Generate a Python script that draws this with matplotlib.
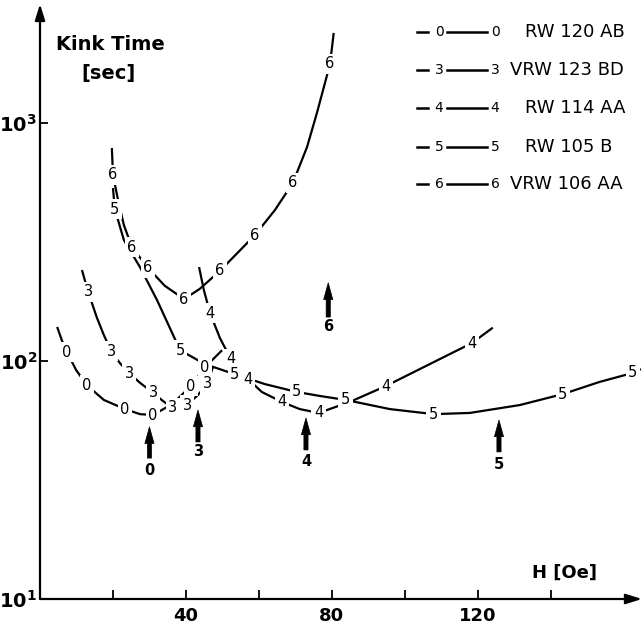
import numpy as np
import matplotlib
matplotlib.use('Agg')
import matplotlib.pyplot as plt
from matplotlib.lines import Line2D

# ---------------- data ----------------
series_ids = ['0', '3', '4', '5', '6']
series_names = ['RW 120 AB', 'VRW 123 BD', 'RW 114 AA', 'RW 105 B', 'VRW 106 AA']

H0 = [4.7, 6.0, 7.4, 9.9, 12.9, 17.5, 23.3, 27.4, 31.0, 36.2, 41.4, 45.2, 49.9]
T0 = [139, 122, 109, 91.6, 79, 68.6, 62.8, 59.8, 59.3, 65.9, 78.5, 94.0, 111]
M0 = [0, 0, 1, 0, 1, 0, 1, 0, 1, 0, 1, 1, 0]

H3 = [11.5, 13.2, 15.6, 17.5, 19.5, 21.9, 24.4, 27.4, 31.0, 33.7, 36.4, 40.3, 43.3, 45.9, 47.4]
T3 = [241, 195, 152, 128.5, 110, 98, 89, 81, 73.5, 67.9, 63.5, 65.3, 72, 80.5, 94.4]
M3 = [0, 1, 0, 0, 1, 0, 1, 0, 1, 0, 1, 1, 0, 1, 0]

H4 = [43.6, 44.9, 46.6, 49.3, 52.3, 57.0, 60.8, 66.3, 71.2, 76.4, 84.9, 94.8, 106.8, 118.4, 124.1]
T4 = [248, 199, 159, 125, 102, 84, 74.1, 67.3, 62.8, 60.5, 67.3, 78.5, 97, 119, 138]
M4 = [0, 0, 1, 0, 1, 1, 0, 1, 0, 1, 0, 1, 0, 1, 0]

H5 = [20.0, 20.5, 23.0, 27.4, 32.1, 38.4, 45.2, 53.4, 61.6, 70.4, 76.7, 83.8, 95.9,
      107.9, 117.8, 131.5, 143.3, 153.4, 162.5, 164.7]
T5 = [533, 435, 322, 248, 180, 111, 97, 88.0, 80, 74.1, 71.3, 68.6, 62.8,
      59.8, 60.5, 65.3, 72.6, 81.7, 89.1, 92.5]
M5 = [0, 1, 0, 0, 0, 1, 0, 1, 0, 1, 0, 1, 0, 1, 0, 0, 1, 0, 1, 0]

H6 = [19.7, 20.0, 21.4, 23.0, 25.2, 29.6, 34.2, 39.5, 43.8, 49.3, 58.9, 64.4, 69.3,
      73.2, 75.9, 79.5, 80.5]
T6 = [785, 605, 474, 372, 301, 246, 207, 182, 201, 239, 338, 431, 560,
      793, 1102, 1770, 2390]
M6 = [0, 1, 0, 0, 1, 1, 0, 1, 0, 1, 1, 0, 1, 0, 0, 1, 0]

# arrows marking the minima (field values)
arrow_ids = ['0', '3', '4', '5', '6']
arrow_H = [30.0, 43.3, 72.9, 125.8, 79.0]

x_ticks = [20, 40, 60, 80, 100, 120, 140]
x_tick_labels = ['', '40', '', '80', '', '120', '']
y_ticks = [10, 100, 1000]
y_tick_labels = [r'$\mathbf{10^1}$', r'$\mathbf{10^2}$', r'$\mathbf{10^3}$']

# ---------------- styling / positions ----------------
arrow_tip_T = [52.9, 62.2, 57.6, 56.5, 213]
arrow_base_T = [39.1, 45.7, 42.3, 41.5, 153]
arrow_lab_T = [34.8, 41.5, 38.0, 36.9, 139]

W, Hpx = 644, 629
fig = plt.figure(figsize=(W / 100, Hpx / 100), dpi=100)
ax = fig.add_axes([40 / W, 30 / Hpx, 602 / W, 595 / Hpx])
ax.set_yscale('log')
ax.set_xlim(0, 165)
ax.set_ylim(10, 10 ** 3.5)

for s in ax.spines.values():
    s.set_visible(False)

# axes with arrows
for xy in [(1.0, 0), (0, 1.0)]:
    ax.annotate('', xy=xy, xytext=(0, 0), xycoords='axes fraction',
                arrowprops=dict(arrowstyle='-|>,head_length=0.8,head_width=0.25',
                                lw=1.6, color='k', shrinkA=0, shrinkB=0,
                                mutation_scale=12), annotation_clip=False)

ax.set_xticks(x_ticks)
ax.set_xticklabels(x_tick_labels, fontsize=13, fontweight='bold')
ax.set_yticks(y_ticks)
ax.set_yticklabels(y_tick_labels, fontsize=14)
ax.yaxis.set_minor_locator(matplotlib.ticker.NullLocator())
ax.tick_params(axis='x', direction='in', length=6.5, width=1.3, pad=6)
ax.tick_params(axis='y', direction='in', length=6, width=1.3, pad=2)
ax.yaxis.get_major_ticks()[0].tick1line.set_visible(False)

series = [(H0, T0, M0), (H3, T3, M3), (H4, T4, M4), (H5, T5, M5), (H6, T6, M6)]
for sid, (hh, tt, mm) in zip(series_ids, series):
    ax.plot(hh, tt, color='k', lw=1.6, zorder=2, solid_capstyle='butt')
    for h, t, m in zip(hh, tt, mm):
        if m:
            ax.text(h, t, sid, ha='center', va='center', fontsize=10.5,
                    zorder=3, bbox=dict(boxstyle='square,pad=0.18', fc='white',
                                        ec='none'))

for aid, h, tip, base, lab in zip(arrow_ids, arrow_H, arrow_tip_T, arrow_base_T, arrow_lab_T):
    ax.annotate('', xy=(h, tip), xytext=(h, base),
                arrowprops=dict(arrowstyle='simple,head_length=1.0,head_width=0.55,tail_width=0.25',
                                fc='k', ec='k', lw=0.5, shrinkA=0, shrinkB=0,
                                mutation_scale=12))
    ax.text(h, lab, aid, ha='center', va='center', fontsize=10.5, fontweight='bold')

# axis titles
fig.text(110 / W, 1 - 45 / Hpx, 'Kink Time', ha='center', va='center',
         fontsize=14, fontweight='bold')
fig.text(108 / W, 1 - 74 / Hpx, '[sec]', ha='center', va='center',
         fontsize=14, fontweight='bold')
fig.text(565 / W, 1 - 573 / Hpx, 'H [Oe]', ha='center', va='center',
         fontsize=13, fontweight='bold')

# legend (manual)
leg_y = [32, 70, 108, 147, 184]
leg_text_x = [525, 510, 525, 525, 510]
for sid, name, y, tx in zip(series_ids, series_names, leg_y, leg_text_x):
    fy = 1 - y / Hpx
    fig.add_artist(Line2D([417 / W, 428 / W], [fy, fy], color='k', lw=1.8))
    fig.add_artist(Line2D([447 / W, 487 / W], [fy, fy], color='k', lw=1.8))
    fig.text(439 / W, fy, sid, ha='center', va='center', fontsize=10)
    fig.text(495 / W, fy, sid, ha='center', va='center', fontsize=10)
    fig.text(tx / W, fy, name, ha='left', va='center', fontsize=13)

fig.savefig('out.png', dpi=100)
